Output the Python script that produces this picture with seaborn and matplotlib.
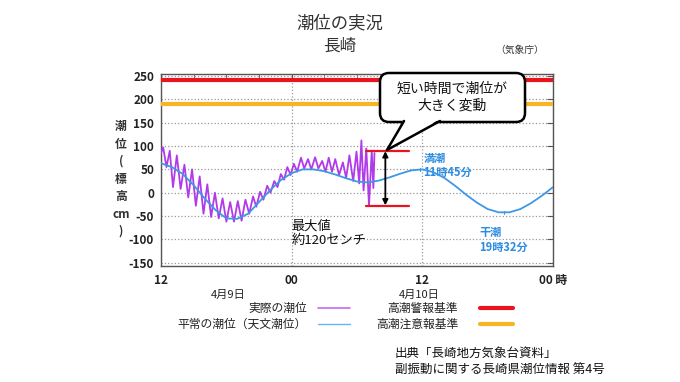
import pandas as pd
import seaborn as sns
import matplotlib.pyplot as plt
from matplotlib.lines import Line2D
from matplotlib.patches import FancyBboxPatch, Polygon
from matplotlib.transforms import IdentityTransform

# 天文潮位（1時間ごと、4/9 12時からの経過時間）
astro_hours = list(range(37))
astro_cm = [63, 55, 40, 16, -12, -37, -55, -56, -45, -20, 5, 27, 42, 50, 50, 46, 39, 31, 24,
            22, 26, 33, 41, 48, 50, 44, 32, 15, -4, -21, -35, -42, -42, -35, -22, -6, 12]

# 実際の潮位（山と谷）
obs_hours = [0.0, 0.2, 0.5, 0.8, 1.1, 1.45, 1.8, 2.15, 2.5, 2.85, 3.2, 3.55, 3.9, 4.25, 4.6,
             4.95, 5.3, 5.65, 6.0, 6.35, 6.7, 7.05, 7.4, 7.75, 8.1, 8.45, 8.75, 9.1, 9.4, 9.75,
             10.05, 10.4, 10.7, 11.0, 11.3, 11.6, 11.9, 12.2, 12.5, 12.85, 13.15, 13.5, 13.8,
             14.15, 14.45, 14.8, 15.1, 15.4, 15.7, 16.0, 16.35, 16.7, 17.0, 17.3, 17.65, 17.95,
             18.2, 18.4, 18.6, 18.85, 19.1, 19.35, 19.5, 19.6]
obs_cm = [85, 97, 55, 90, 12, 80, 8, 60, -10, 50, -28, 35, -45, 18, -52,
          0, -55, -12, -62, -20, -62, -18, -60, -15, -45, -8, -30, 2, -15, 15,
          0, 25, 12, 40, 28, 55, 38, 62, 45, 75, 52, 72, 50,
          76, 52, 68, 45, 75, 45, 72, 38, 65, 32, 80, 25, 88,
          20, 112, 5, 95, -28, 90, 10, 85]

warning_cm = 242
advisory_cm = 191
swing_top, swing_bottom = 90, -28
swing_start, swing_end, swing_at = 18.8, 22.8, 20.6
high_h, high_cm = 23.75, 50
low_h, low_cm = 31.53, -43

x_ticks = [0, 12, 24, 36]
x_labels = ["12", "00", "12", "00 時"]
y_ticks = [250, 200, 150, 100, 50, 0, -50, -100, -150]

violet = "#B13BE8"
blue = "#3d98e6"
red = "#e8141e"
orange = "#f7b526"
label_blue = "#2b8be0"

sns.set_style("white")
plt.rcParams["font.family"] = ["Noto Sans CJK JP", "DejaVu Sans"]

df_astro = pd.DataFrame({"h": astro_hours, "cm": astro_cm})
df_obs = pd.DataFrame({"h": obs_hours, "cm": obs_cm})

fig = plt.figure(figsize=(6.8, 3.82), dpi=100)
ax = fig.add_axes([0.2368, 0.3037, 0.5765, 0.5033])

ax.axhline(warning_cm, color=red, lw=3, zorder=3)
ax.axhline(advisory_cm, color=orange, lw=3, zorder=3)
sns.lineplot(data=df_obs, x="h", y="cm", ax=ax, color=violet, lw=1.3, zorder=4)
sns.lineplot(data=df_astro, x="h", y="cm", ax=ax, color=blue, lw=1.3, zorder=5)

ax.plot([high_h, high_h], [high_cm - 3, high_cm + 3], color=blue, lw=0.8, zorder=5)
ax.plot([low_h, low_h], [low_cm - 3, low_cm + 3], color=blue, lw=0.8, zorder=5)

# 変動幅
ax.plot([swing_start, swing_end], [swing_top, swing_top], color=red, lw=1.6, zorder=6)
ax.plot([swing_start, swing_end], [swing_bottom, swing_bottom], color=red, lw=1.6, zorder=6)
ax.annotate("", xy=(swing_at, swing_bottom + 1), xytext=(swing_at, swing_top - 1),
            arrowprops=dict(arrowstyle="<|-|>", color="black", lw=1.3,
                            mutation_scale=8, shrinkA=0, shrinkB=0), zorder=7)

ax.set_xlim(0, 36)
ax.set_ylim(-157, 255)
ax.set_xticks(x_ticks)
ax.set_xticklabels(x_labels)
ax.set_xticks(range(0, 37, 3), minor=True)
ax.set_yticks(y_ticks)
ax.set_yticklabels([str(v) for v in y_ticks])
ax.set_xlabel("")
ax.set_ylabel("")
ax.grid(True, which="major", ls=":", color="#999999", lw=0.9)
ax.tick_params(which="both", direction="in", top=True, right=True, color="#555555")
ax.tick_params(which="major", length=4)
ax.tick_params(which="minor", length=3)
ax.tick_params(axis="x", pad=6, labelsize=8.5, labelcolor="#222222")
ax.tick_params(axis="y", pad=5, labelsize=8.5, labelcolor="#222222")
for lab in ax.get_xticklabels() + ax.get_yticklabels():
    lab.set_fontweight("bold")
for s in ax.spines.values():
    s.set_color("#555555")
    s.set_linewidth(1)

xt = ax.get_xaxis_transform()
ax.text(6.2, -0.148, "4月9日", transform=xt, ha="center", va="center", fontsize=8, color="#222222")
ax.text(23.7, -0.148, "4月10日", transform=xt, ha="center", va="center", fontsize=8, color="#222222")

ax.text(24.1, 88, "満潮\n11時45分", color=label_blue, fontsize=8, fontweight="bold",
        ha="left", va="top", linespacing=1.15)
ax.text(29.2, -72, "干潮\n19時32分", color=label_blue, fontsize=8, fontweight="bold",
        ha="left", va="top", linespacing=1.15)
ax.text(12.0, -58, "最大値\n約120センチ", color="#111111", fontsize=9.5,
        ha="left", va="top", linespacing=1.15)

# 吹き出し（ピクセル座標）
pix = IdentityTransform()
box = FancyBboxPatch((380, 260), 145, 49, boxstyle="round,pad=0,rounding_size=9",
                     fc="white", ec="black", lw=1.8, transform=pix, zorder=8)
fig.add_artist(box)
tail = [(404, 263), (440, 263), (387, 232)]
fig.add_artist(Polygon(tail, closed=True, fc="white", ec="none", transform=pix, zorder=9))
fig.add_artist(Line2D([404, 387], [261, 232], color="black", lw=1.8, transform=pix, zorder=10))
fig.add_artist(Line2D([440, 387], [261, 232], color="black", lw=1.8, transform=pix, zorder=10))
fig.text(452, 285, "短い時間で潮位が\n大きく変動", transform=pix, ha="center", va="center",
         fontsize=10, linespacing=1.2, color="#111111", zorder=11)

# タイトル
fig.text(0.5, 1 - 23 / 382, "潮位の実況", ha="center", va="center", fontsize=12.5, color="#333333")
fig.text(0.5, 1 - 46 / 382, "長崎", ha="center", va="center", fontsize=12, color="#333333")
fig.text(520 / 680, 1 - 50 / 382, "（気象庁）", ha="center", va="center", fontsize=7, color="#333333")

# 縦書きの軸ラベル
fig.text(121 / 680, 1 - 179 / 382, "\n".join(["潮", "位", "(", "標", "高", "cm", ")"]),
         ha="center", va="center", fontsize=8.5, linespacing=1.45, fontweight="bold", color="#333333")

# 凡例
legend_rows = [("実際の潮位", violet, 1.2, "高潮警報基準", red, 3),
               ("平常の潮位（天文潮位）", blue, 1.0, "高潮注意報基準", orange, 3)]
for i, (t1, c1, w1, t2, c2, w2) in enumerate(legend_rows):
    yy = 1 - (308 + 16 * i) / 382
    fig.text(307 / 680, yy, t1, ha="right", va="center", fontsize=8.5, color="#222222")
    fig.add_artist(Line2D([318 / 680, 350 / 680], [yy, yy], color=c1, lw=w1, alpha=0.75))
    fig.text(458 / 680, yy, t2, ha="right", va="center", fontsize=8.5, color="#222222")
    fig.add_artist(Line2D([480 / 680, 513 / 680], [yy, yy], color=c2, lw=w2))

fig.text(395 / 680, 1 - 353 / 382, "出典「長崎地方気象台資料」", ha="left", va="center", fontsize=9, color="#111111")
fig.text(395 / 680, 1 - 370 / 382, "副振動に関する長崎県潮位情報 第4号", ha="left", va="center", fontsize=9, color="#111111")

fig.savefig("out.png", dpi=100)
